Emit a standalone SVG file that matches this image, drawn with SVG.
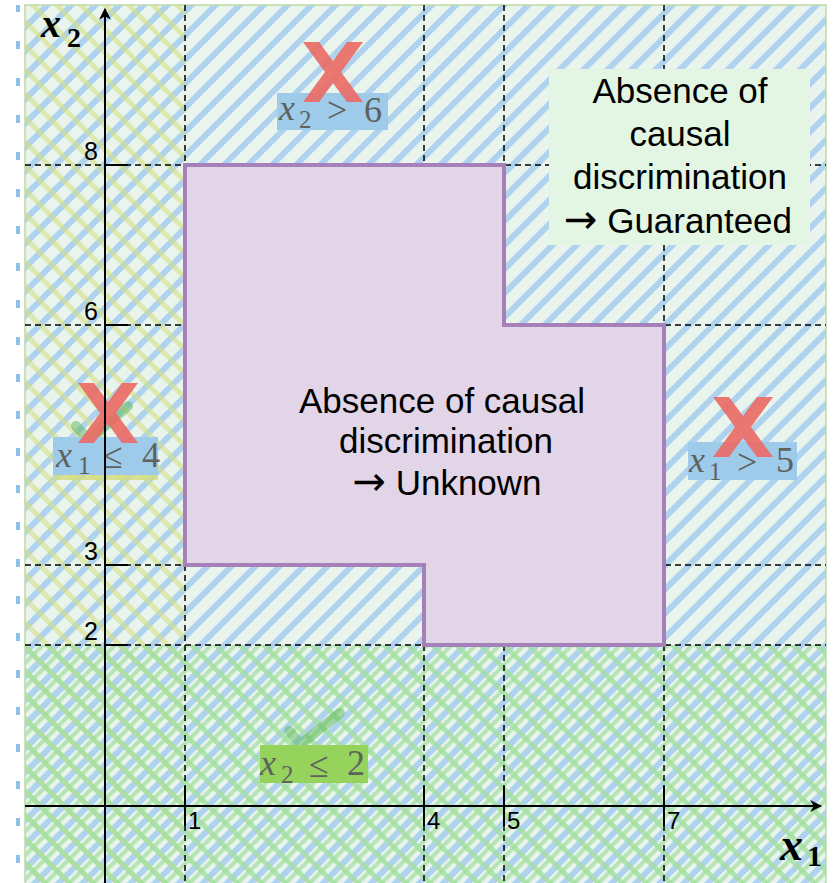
<svg xmlns="http://www.w3.org/2000/svg" width="838" height="883" viewBox="0 0 838 883">
  <defs>
    <pattern id="blueHatch" patternUnits="userSpaceOnUse" width="17" height="17" patternTransform="rotate(45)">
      <rect x="0" y="0" width="6" height="17" fill="#afd3ee"/>
    </pattern>
    <pattern id="yellowHatch" patternUnits="userSpaceOnUse" width="17" height="17" patternTransform="rotate(-45)">
      <rect x="0" y="0" width="5" height="17" fill="#d6df86" fill-opacity="0.6"/>
    </pattern>
    <pattern id="greenHatchA" patternUnits="userSpaceOnUse" width="17" height="17" patternTransform="rotate(-45)">
      <rect x="0" y="0" width="5" height="17" fill="#a2dea0" fill-opacity="0.8"/>
    </pattern>
    <pattern id="greenHatchB" patternUnits="userSpaceOnUse" width="17" height="17" patternTransform="rotate(45)">
      <rect x="8.5" y="0" width="4" height="17" fill="#a2dea0" fill-opacity="0.75"/>
    </pattern>
    <pattern id="edgeMarks" patternUnits="userSpaceOnUse" x="0" y="4" width="20" height="37">
      <rect x="16" y="0" width="9" height="8" fill="#8fc0e8"/>
    </pattern>
    <marker id="arrow" viewBox="0 0 10 10" refX="9" refY="5" markerWidth="6" markerHeight="6" orient="auto" markerUnits="strokeWidth">
      <path d="M0,0 L10,5 L0,10 L3,5 z" fill="#000"/>
    </marker>
    <polygon id="redX" points="0,0 16,0 30,19 44,0 60,0 38,30 60,60 44,60 30,41 16,60 0,60 22,30"/>
  </defs>
  <style>
    .grid { stroke: #000; stroke-width: 1.5; stroke-dasharray: 6 4; fill: none; }
    .tick { stroke: #000; stroke-width: 2; }
    .axis { stroke: #000; stroke-width: 2; fill: none; }
    .num { font-family: "Liberation Sans", Arial, sans-serif; fill: #000; }
    .txt { font-family: "Liberation Sans", Arial, sans-serif; font-size: 35px; fill: #000; text-anchor: middle; }
    .arr { font-family: "DejaVu Sans", sans-serif; font-size: 40px; }
    .math { font-family: "Liberation Serif", "DejaVu Serif", serif; fill: #5e625e; }
    .mathi { font-style: italic; }
    .xmark { fill: #ea6b66; fill-opacity: 0.92; }
    .check { stroke: #5cb85c; stroke-width: 10; stroke-opacity: 0.5; fill: none; stroke-linecap: round; stroke-linejoin: round; }
    .axlab { font-family: "Liberation Serif", "DejaVu Serif", serif; font-weight: bold; fill: #000; }
  </style>

  <rect x="0" y="0" width="838" height="883" fill="#ffffff"/>

  <g id="background">
    <rect x="0" y="5" width="25" height="878" fill="url(#edgeMarks)"/>
    <rect x="25" y="5" width="801" height="878" fill="#e9f4ec"/>
    <rect x="25" y="5" width="801" height="878" fill="url(#blueHatch)"/>
    <rect x="25" y="5" width="160" height="878" fill="url(#yellowHatch)"/>
    <rect x="25" y="645" width="801" height="238" fill="url(#greenHatchA)"/>
    <rect x="25" y="645" width="801" height="238" fill="url(#greenHatchB)"/>
    <rect x="25" y="5" width="801" height="880" fill="none" stroke="#bcdaa8" stroke-width="1.5"/>
  </g>

  <g id="grid">
    <line class="grid" x1="185" y1="5" x2="185" y2="883"/>
    <line class="grid" x1="424" y1="5" x2="424" y2="883"/>
    <line class="grid" x1="504" y1="5" x2="504" y2="883"/>
    <line class="grid" x1="664" y1="5" x2="664" y2="883"/>
    <line class="grid" x1="25" y1="165" x2="826" y2="165"/>
    <line class="grid" x1="25" y1="325" x2="826" y2="325"/>
    <line class="grid" x1="25" y1="565" x2="826" y2="565"/>
    <line class="grid" x1="25" y1="645" x2="826" y2="645"/>
  </g>

  <g id="region-unknown">
    <polygon points="185,165 504,165 504,325 664,325 664,645 424,645 424,565 185,565" fill="#e1d5e7" stroke="#a680b8" stroke-width="4"/>
    <text class="txt" x="442" y="413">Absence of causal</text>
    <text class="txt" x="446" y="453">discrimination</text>
    <text class="txt" x="447" y="495"><tspan class="arr">→</tspan> Unknown</text>
  </g>

  <g id="box-guaranteed">
    <rect x="549" y="69" width="261" height="176" fill="#e3f5e3"/>
    <text class="txt" x="680" y="103">Absence of</text>
    <text class="txt" x="680" y="146">causal</text>
    <text class="txt" x="680" y="189">discrimination</text>
    <text class="txt" x="678" y="233"><tspan class="arr">→</tspan> Guaranteed</text>
  </g>

  <g id="label-x2-gt-6">
    <rect x="277" y="93" width="111" height="37" fill="#9ecbea"/>
    <use href="#redX" class="xmark" x="303" y="42"/>
    <text class="math" font-size="36"><tspan class="mathi" x="279" y="120">x</tspan><tspan font-size="25" x="299" y="128">2</tspan><tspan x="327" y="122">&gt;</tspan><tspan x="364" y="122">6</tspan></text>
  </g>

  <g id="label-x1-le-4">
    <path class="check" d="M76,426 L89,440 L128,406" stroke-opacity="0.35"/>
    <rect x="53" y="442" width="105" height="38" fill="#d3dc7c" fill-opacity="0.8"/>
    <rect x="53" y="437" width="105" height="38" fill="#9ecbea"/>
    <use href="#redX" class="xmark" x="78" y="383"/>
    <text class="math" font-size="36"><tspan class="mathi" x="56" y="467">x</tspan><tspan font-size="25" x="78" y="474">1</tspan><tspan x="103" y="468">≤</tspan><tspan x="142" y="467">4</tspan></text>
  </g>

  <g id="label-x1-gt-5">
    <rect x="688" y="442" width="109" height="38" fill="#9ecbea"/>
    <use href="#redX" class="xmark" x="713" y="397"/>
    <text class="math" font-size="36"><tspan class="mathi" x="689" y="472">x</tspan><tspan font-size="25" x="709" y="480">1</tspan><tspan x="737" y="474">&gt;</tspan><tspan x="776" y="472">5</tspan></text>
  </g>

  <g id="label-x2-le-2">
    <path class="check" d="M289,731 L301,744 L340,713"/>
    <rect x="260" y="745" width="108" height="38" fill="#96d35c"/>
    <text class="math" font-size="36"><tspan class="mathi" x="260" y="775">x</tspan><tspan font-size="25" x="281" y="783">2</tspan><tspan x="309" y="777">≤</tspan><tspan x="347" y="775">2</tspan></text>
  </g>

  <g id="connectors">
    <line class="axis" x1="105" y1="883" x2="105" y2="9" marker-end="url(#arrow)"/>
    <line class="axis" x1="25" y1="806" x2="821" y2="806" marker-end="url(#arrow)"/>
    <line class="tick" x1="105" y1="165" x2="128" y2="165"/>
    <line class="tick" x1="105" y1="325" x2="128" y2="325"/>
    <line class="tick" x1="105" y1="565" x2="128" y2="565"/>
    <line class="tick" x1="105" y1="645" x2="128" y2="645"/>
    <line class="tick" x1="185" y1="786" x2="185" y2="826"/>
    <line class="tick" x1="424" y1="786" x2="424" y2="826"/>
    <line class="tick" x1="504" y1="786" x2="504" y2="826"/>
    <line class="tick" x1="664" y1="786" x2="664" y2="826"/>
  </g>

  <g id="axis-labels">
    <text class="num" font-size="25" x="98" y="160" text-anchor="end">8</text>
    <text class="num" font-size="25" x="98" y="320" text-anchor="end">6</text>
    <text class="num" font-size="25" x="98" y="560" text-anchor="end">3</text>
    <text class="num" font-size="25" x="98" y="640" text-anchor="end">2</text>
    <text class="num" font-size="24" x="188" y="829">1</text>
    <text class="num" font-size="24" x="427" y="829">4</text>
    <text class="num" font-size="24" x="507" y="829">5</text>
    <text class="num" font-size="24" x="667" y="829">7</text>
    <text class="axlab"><tspan x="41" y="37" font-style="italic" font-size="40">x</tspan><tspan x="67" y="47" font-size="28">2</tspan></text>
    <text class="axlab"><tspan x="780" y="860" font-style="italic" font-size="46">x</tspan><tspan x="807" y="866" font-size="30">1</tspan></text>
  </g>
</svg>
